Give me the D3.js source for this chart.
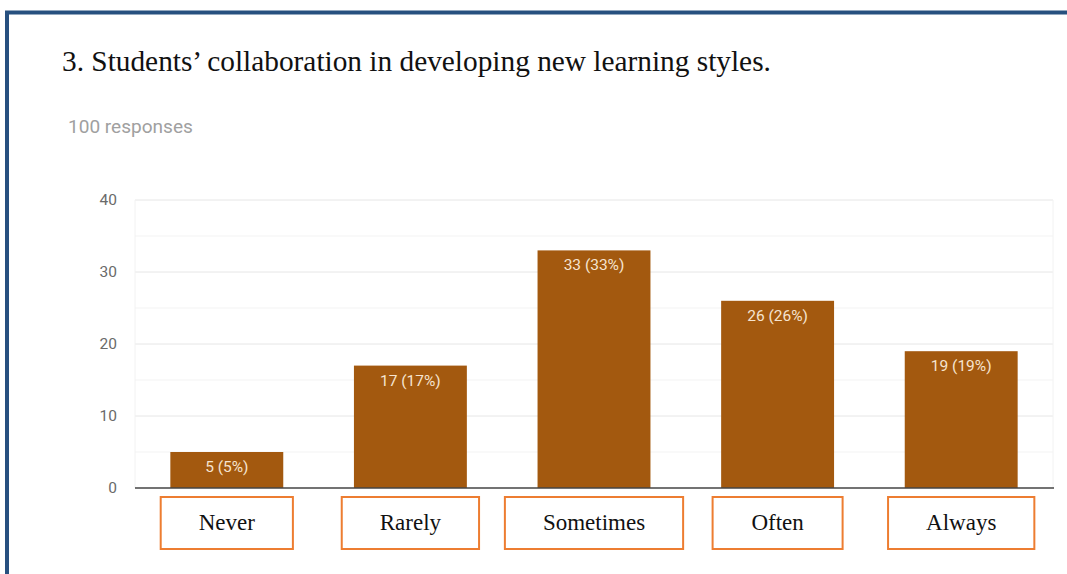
<!DOCTYPE html>
<html>
<head>
<meta charset="utf-8">
<script src="https://cdn.jsdelivr.net/npm/d3@7"></script>
<style>
  html, body { margin: 0; padding: 0; background: #fff; }
  svg { display: block; }
</style>
</head>
<body>
<svg id="chart" width="1067" height="574"></svg>
<script>
// values
var categories = ["Never", "Rarely", "Sometimes", "Often", "Always"];
var counts = [5, 17, 33, 26, 19];
var percents = [5, 17, 33, 26, 19];
var yTicks = [0, 10, 20, 30, 40];
var minorTicks = [5, 15, 25, 35];
var titleText = "3. Students\u2019 collaboration in developing new learning styles.";
var subtitleText = "100 responses";

var svg = d3.select("#chart");

// page frame (blue border round the figure)
svg.append("rect")
  .attr("x", 7).attr("y", 12.5)
  .attr("width", 1067).attr("height", 600)
  .attr("fill", "none")
  .attr("stroke", "#27507f")
  .attr("stroke-width", 4);

// fit a text to the width it has in the picture
function fitWidth(sel, size, width){
  var w = sel.node().getComputedTextLength();
  sel.style("font-size", (size * width / w) + "px");
}

var title = svg.append("text")
  .attr("x", 62).attr("y", 71)
  .style("font-family", "'Liberation Serif', 'Times New Roman', serif")
  .style("font-size", "28px")
  .attr("fill", "#111")
  .text(titleText);
fitWidth(title, 28, 709);

var sub = svg.append("text")
  .attr("x", 68).attr("y", 133)
  .style("font-family", "Roboto, Arial, sans-serif")
  .style("font-size", "16px")
  .attr("fill", "#a0a0a0")
  .text(subtitleText);
fitWidth(sub, 16, 125);

var plotL = 135, plotR = 1053, plotT = 200, plotB = 488;

var x = d3.scaleBand()
  .domain(categories)
  .range([plotL, plotR])
  .paddingInner(0.385)
  .paddingOuter(0.1925);

var y = d3.scaleLinear().domain([0, 40]).range([plotB, plotT]);

// gridlines
svg.append("g").selectAll("line.minor").data(minorTicks).enter()
  .append("line")
  .attr("class", "minor")
  .attr("x1", plotL).attr("x2", plotR)
  .attr("y1", function(d){return y(d)}).attr("y2", function(d){return y(d)})
  .attr("stroke", "#f3f3f3").attr("stroke-width", 1);

svg.append("g").selectAll("line.major").data(yTicks.slice(1)).enter()
  .append("line")
  .attr("class", "major")
  .attr("x1", plotL).attr("x2", plotR)
  .attr("y1", function(d){return y(d)}).attr("y2", function(d){return y(d)})
  .attr("stroke", "#e6e6e6").attr("stroke-width", 1);

svg.append("line")
  .attr("x1", plotL).attr("x2", plotL)
  .attr("y1", plotT).attr("y2", plotB)
  .attr("stroke", "#f2f2f2");
svg.append("line")
  .attr("x1", plotR).attr("x2", plotR)
  .attr("y1", plotT).attr("y2", plotB)
  .attr("stroke", "#f2f2f2");

// y axis labels
var yAxis = svg.append("g")
  .attr("transform", "translate(" + (plotL - 18) + ",0)")
  .call(d3.axisLeft(y).tickValues(yTicks).tickSize(0).tickPadding(0));
yAxis.select(".domain").remove();
yAxis.selectAll("text")
  .style("font-family", "Roboto, Arial, sans-serif")
  .style("font-size", "15.5px")
  .attr("fill", "#6a6a6a");

// bars
var rows = categories.map(function(c, i){
  return {cat: c, n: counts[i], pct: percents[i]};
});

svg.append("g").selectAll("rect").data(rows).enter()
  .append("rect")
  .attr("x", function(d){return x(d.cat)})
  .attr("y", function(d){return y(d.n)})
  .attr("width", x.bandwidth())
  .attr("height", function(d){return y(0) - y(d.n)})
  .attr("fill", "#a3590f");

svg.append("g").selectAll("text").data(rows).enter()
  .append("text")
  .attr("x", function(d){return x(d.cat) + x.bandwidth() / 2})
  .attr("y", function(d){return y(d.n) + 20})
  .attr("text-anchor", "middle")
  .style("font-family", "Roboto, Arial, sans-serif")
  .style("font-size", "15.5px")
  .attr("fill", "#f6e4cf")
  .text(function(d){return d.n + " (" + d.pct + "%)"});

// baseline
svg.append("line")
  .attr("x1", plotL).attr("x2", plotR + 1)
  .attr("y1", plotB).attr("y2", plotB)
  .attr("stroke", "#444").attr("stroke-width", 1.6);

// category label boxes
var boxes = svg.append("g").selectAll("g").data(rows).enter()
  .append("g")
  .attr("transform", function(d){
    return "translate(" + (x(d.cat) + x.bandwidth() / 2) + ",0)";
  });

boxes.append("rect")
  .attr("fill", "#fff")
  .attr("stroke", "#ed7d31")
  .attr("stroke-width", 2);

boxes.append("text")
  .attr("text-anchor", "middle")
  .attr("y", 530)
  .style("font-family", "'Liberation Serif', 'Times New Roman', serif")
  .style("font-size", "23px")
  .attr("fill", "#111")
  .text(function(d){return d.cat})
  .each(function(){
    var w = Math.max(130, this.getComputedTextLength() + 76);
    d3.select(this.parentNode).select("rect")
      .attr("x", -w / 2).attr("y", 497)
      .attr("width", w).attr("height", 52);
  });
</script>
</body>
</html>
